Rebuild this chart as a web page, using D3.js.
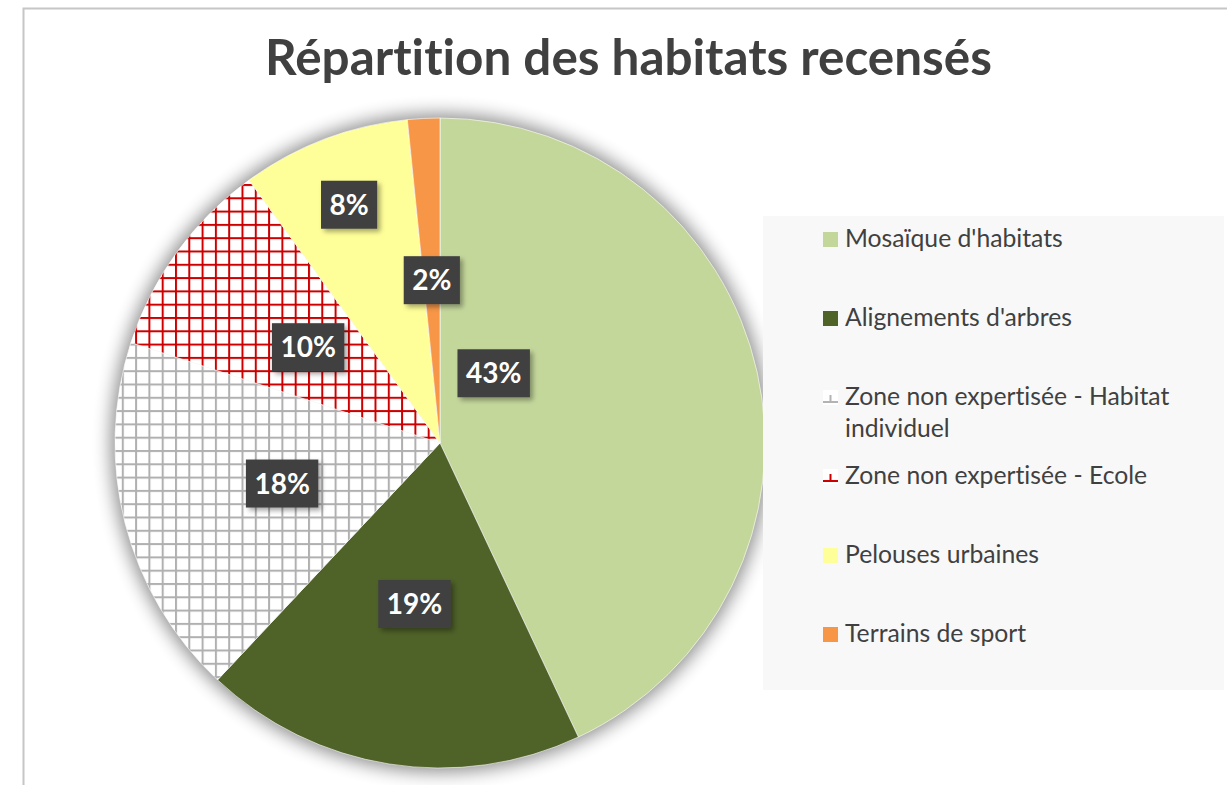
<!DOCTYPE html>
<html>
<head>
<meta charset="utf-8">
<script src="https://cdn.jsdelivr.net/npm/d3@7"></script>
<style>
  html, body { margin: 0; padding: 0; background: #fff; }
  svg { display: block; }
  text { font-variant-ligatures: none; font-feature-settings: "liga" 0, "clig" 0; }
</style>
</head>
<body>
<svg id="chart" width="1227" height="785"></svg>
<script>
// ---- data ----
const title = "Répartition des habitats recensés";
const categories = [
  "Mosaïque d'habitats",
  "Alignements d'arbres",
  "Zone non expertisée - Habitat individuel",
  "Zone non expertisée - Ecole",
  "Pelouses urbaines",
  "Terrains de sport"
];
const values = [43, 19, 18, 10, 8.4, 1.6];
const valueLabels = ["43%", "19%", "18%", "10%", "8%", "2%"];
const fills = ["#c4d79b", "#4f6228", "url(#gridGray)", "url(#gridRed)", "#ffff99", "#f79646"];
const patternColors = [null, null, "#b3b3b3", "#cc0000", null, null];

// ---- layout ----
const W = 1227, H = 785;
const cx = 440, cy = 443, R = 325;
const svg = d3.select("#chart");
const defs = svg.append("defs");

function gridPattern(id, color) {
  const s = 13.3;
  const p = defs.append("pattern").attr("id", id)
    .attr("patternUnits", "userSpaceOnUse")
    .attr("x", 1).attr("y", 7).attr("width", s).attr("height", s);
  p.append("rect").attr("width", s).attr("height", s).attr("fill", "#fff");
  p.append("rect").attr("x", 0).attr("y", 0).attr("width", 2).attr("height", s).attr("fill", color);
  p.append("rect").attr("x", 0).attr("y", 0).attr("width", s).attr("height", 2).attr("fill", color);
}
gridPattern("gridGray", "#b0b0b0");
gridPattern("gridRed", "#cc0000");

const blur = defs.append("filter").attr("id", "pieShadow")
  .attr("x", "-20%").attr("y", "-20%").attr("width", "140%").attr("height", "140%");
blur.append("feGaussianBlur").attr("stdDeviation", 9);

const lblShadow = defs.append("filter").attr("id", "lblShadow")
  .attr("x", "-30%").attr("y", "-30%").attr("width", "160%").attr("height", "160%");
lblShadow.append("feDropShadow").attr("dx", 3).attr("dy", 3).attr("stdDeviation", 2.5)
  .attr("flood-color", "#000").attr("flood-opacity", 0.35);

// chart area border
svg.append("path")
  .attr("d", `M23.5,${H} L23.5,8.5 L${W},8.5`)
  .attr("fill", "none").attr("stroke", "#c6c6c6").attr("stroke-width", 2);

// title, fitted to the reference width
const titleText = svg.append("text")
  .attr("x", 628.5).attr("y", 75)
  .attr("text-anchor", "middle")
  .attr("font-family", "Lato, 'Open Sans', sans-serif")
  .attr("font-weight", "bold")
  .attr("font-size", 44)
  .attr("fill", "#404040")
  .text(title);
{
  const w = titleText.node().getComputedTextLength();
  titleText.attr("font-size", 44 * 727 / w);
}

// pie
const pie = d3.pie().sort(null).value(d => d);
const arcs = pie(values);
const arc = d3.arc().innerRadius(0).outerRadius(R);

const g = svg.append("g").attr("transform", `translate(${cx},${cy})`);
g.append("circle").attr("r", R + 4).attr("fill", "#000").attr("opacity", 0.45)
  .attr("filter", "url(#pieShadow)");
g.selectAll("path.slice").data(arcs).enter().append("path")
  .attr("class", "slice")
  .attr("d", arc)
  .attr("fill", (d, i) => fills[i])
  .attr("stroke", "#fff").attr("stroke-width", 0.6);

// data labels (Excel best-fit positions: mostly half radius along mid-angle)
const labelPlace = [
  { angle: 37.6, r: 88 },
  null, null, null,
  { r: 255 },
  null
];
const lg = svg.append("g");
arcs.forEach((d, i) => {
  const over = labelPlace[i] || {};
  const mid = over.angle !== undefined ? over.angle * Math.PI / 180 : (d.startAngle + d.endAngle) / 2;
  const rr = over.r !== undefined ? over.r : 163;
  const x = cx + rr * Math.sin(mid);
  const y = cy - rr * Math.cos(mid);
  const grp = lg.append("g").attr("transform", `translate(${x},${y})`);
  const t = grp.append("text")
    .attr("text-anchor", "middle").attr("dy", "0.36em")
    .attr("font-family", "Lato, 'Open Sans', sans-serif")
    .attr("font-weight", "bold").attr("font-size", 28)
    .attr("fill", "#fff").text(valueLabels[i]);
  const tw = t.node().getComputedTextLength();
  grp.insert("rect", "text")
    .attr("x", -tw / 2 - 8.5).attr("y", -24)
    .attr("width", tw + 17).attr("height", 48)
    .attr("fill", "#404040")
    .attr("filter", "url(#lblShadow)");
});

// legend
svg.append("rect").attr("x", 763).attr("y", 216).attr("width", 461).attr("height", 474)
  .attr("fill", "#f8f8f8");

const legendFont = "Lato, 'Open Sans', sans-serif";
const probe = svg.append("text").attr("font-family", legendFont).attr("font-size", 20).text(categories[0]);
const legendSize = 20 * 218 / probe.node().getComputedTextLength();
probe.remove();

const legY = d3.scaleBand().domain(categories).range([208, 682]);
const maxW = 345;
categories.forEach((c, i) => {
  const base = legY(c) + 39;
  const gi = svg.append("g");
  if (patternColors[i]) {
    gi.append("rect").attr("x", 823).attr("y", base - 15).attr("width", 15).attr("height", 15).attr("fill", "#fff");
    gi.append("rect").attr("x", 823).attr("y", base - 4).attr("width", 15).attr("height", 2).attr("fill", patternColors[i]);
    gi.append("rect").attr("x", 829.5).attr("y", base - 10).attr("width", 2).attr("height", 8).attr("fill", patternColors[i]);
  } else {
    gi.append("rect").attr("x", 823).attr("y", base - 15).attr("width", 15).attr("height", 15).attr("fill", fills[i]);
  }
  const t = gi.append("text").attr("x", 845).attr("y", base)
    .attr("font-family", legendFont).attr("font-size", legendSize).attr("fill", "#404040");
  const words = c.split(" ");
  let line = [], lineNo = 0;
  let ts = t.append("tspan").attr("x", 845).attr("y", base);
  words.forEach(wd => {
    line.push(wd);
    ts.text(line.join(" "));
    if (ts.node().getComputedTextLength() > maxW && line.length > 1) {
      line.pop();
      ts.text(line.join(" "));
      line = [wd];
      lineNo++;
      ts = t.append("tspan").attr("x", 845).attr("y", base + lineNo * 32).text(wd);
    }
  });
});
</script>
</body>
</html>
